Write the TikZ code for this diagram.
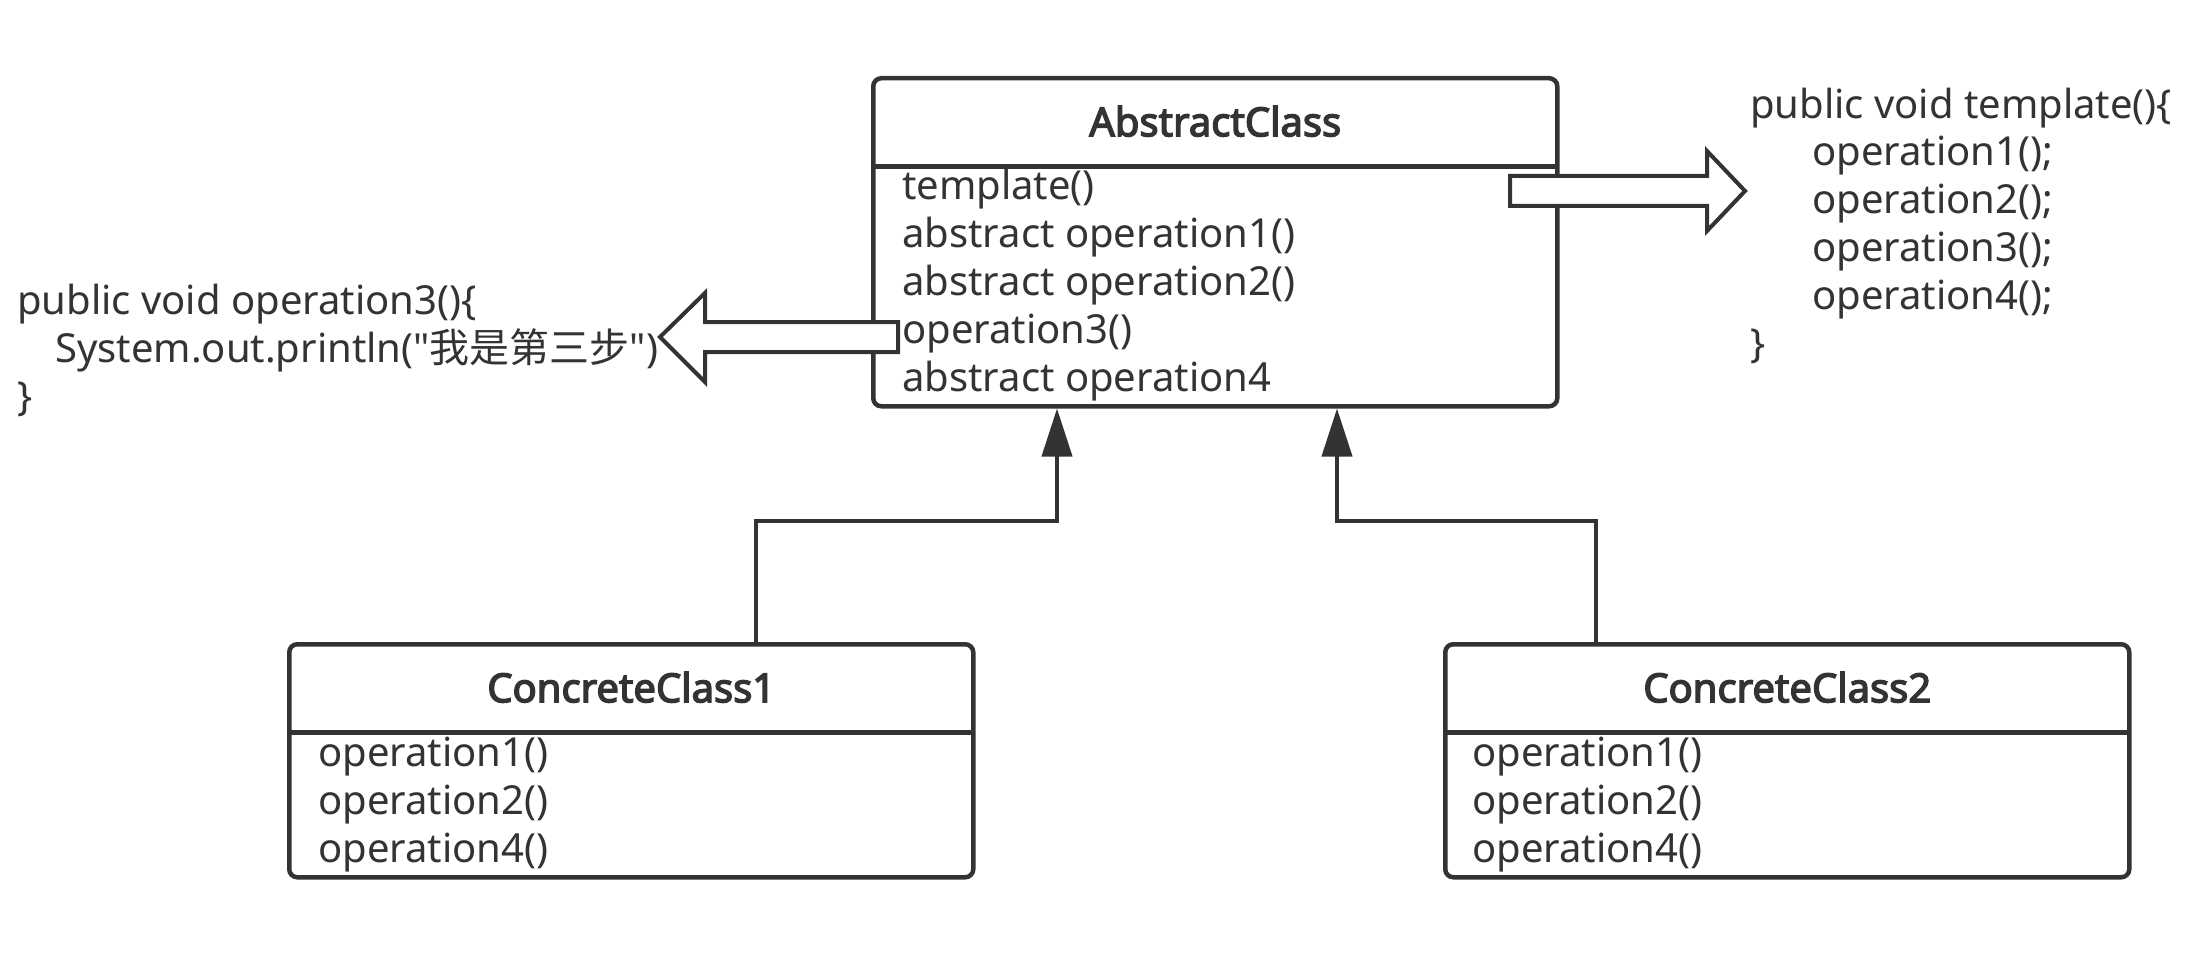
\documentclass[tikz,border=0pt]{standalone}
\usepackage{fontspec}
\setmainfont{Noto Sans}[Ligatures=TeXOff, AutoFakeBold=3.5]
\newfontfamily\cjk{Noto Sans CJK SC}
\usetikzlibrary{calc,arrows.meta}
\definecolor{uml}{HTML}{333333}
\tikzset{
    classbox/.style = {draw=uml, line width=4.5pt, rounded corners=8pt,
        anchor=north west, inner sep=0pt},
    classname/.style = {anchor=north, minimum height=90pt, inner sep=0pt,
        font=\fontsize{40}{47.8}\selectfont\bfseries, text=uml},
    divider/.style = {draw=uml, line width=4.5pt},
    members/.style = {anchor=base west, align=left, inner sep=0pt, text=uml},
    code/.style = {anchor=base west, align=left, inner sep=0pt, text=uml},
    inherit/.style = {draw=uml, line width=4pt, -{Triangle[length=48pt,width=30pt]}},
    fatarrow/.style = {draw=uml, line width=4pt, fill=white, line join=miter}
}
\begin{document}
\begin{tikzpicture}[x=1pt, y=-1pt, font=\fontsize{40}{47.8}\selectfont]
    \fill[white] (0,0) rectangle (2212,960);
    \useasboundingbox (0,0) rectangle (2212,960);
    \node[classbox, minimum width=684, minimum height=328] (abs) at (871,76) {};
    \node[classname, minimum width=684] (absname) at (abs.north) {AbstractClass};
    \draw[divider] (absname.south west) -- (absname.south east);
    \node[members] (absops) at (902,391) {template()\\abstract operation1()\\abstract operation2()\\operation3()\\abstract operation4};
    \node[classbox, minimum width=684, minimum height=233] (cc1) at (287,642) {};
    \node[classname, minimum width=684] (cc1name) at (cc1.north) {ConcreteClass1};
    \draw[divider] (cc1name.south west) -- (cc1name.south east);
    \node[members] (cc1ops) at (318,862) {operation1()\\operation2()\\operation4()};
    \node[classbox, minimum width=684, minimum height=233] (cc2) at (1443,642) {};
    \node[classname, minimum width=684] (cc2name) at (cc2.north) {ConcreteClass2};
    \draw[divider] (cc2name.south west) -- (cc2name.south east);
    \node[members] (cc2ops) at (1472,862) {operation1()\\operation2()\\operation4()};
    \node[code] (op3code) at (17,410) {public void operation3()\{\\\hspace*{38pt}System.out.println("{\cjk 我是第三步}")\\\}};
    \node[code] (tplcode) at (1750,357) {public void template()\{\\\hspace*{62pt}operation1();\\\hspace*{62pt}operation2();\\\hspace*{62pt}operation3();\\\hspace*{62pt}operation4();\\\}};
    \draw[fatarrow] (1510,176) -- (1707,176) -- (1707,151) -- (1745,191) -- (1707,231) -- (1707,206) -- (1510,206) -- cycle;
    \draw[fatarrow] (898,322) -- (705,322) -- (705,293) -- (660,337) -- (705,382) -- (705,352) -- (898,352) -- cycle;
    \draw[inherit] (cc1.north -| 756,0) -- (756,521) -| (abs.south -| 1057,0);
    \draw[inherit] (cc2.north -| 1596,0) -- (1596,521) -| (abs.south -| 1337,0);
\end{tikzpicture}
\end{document}
